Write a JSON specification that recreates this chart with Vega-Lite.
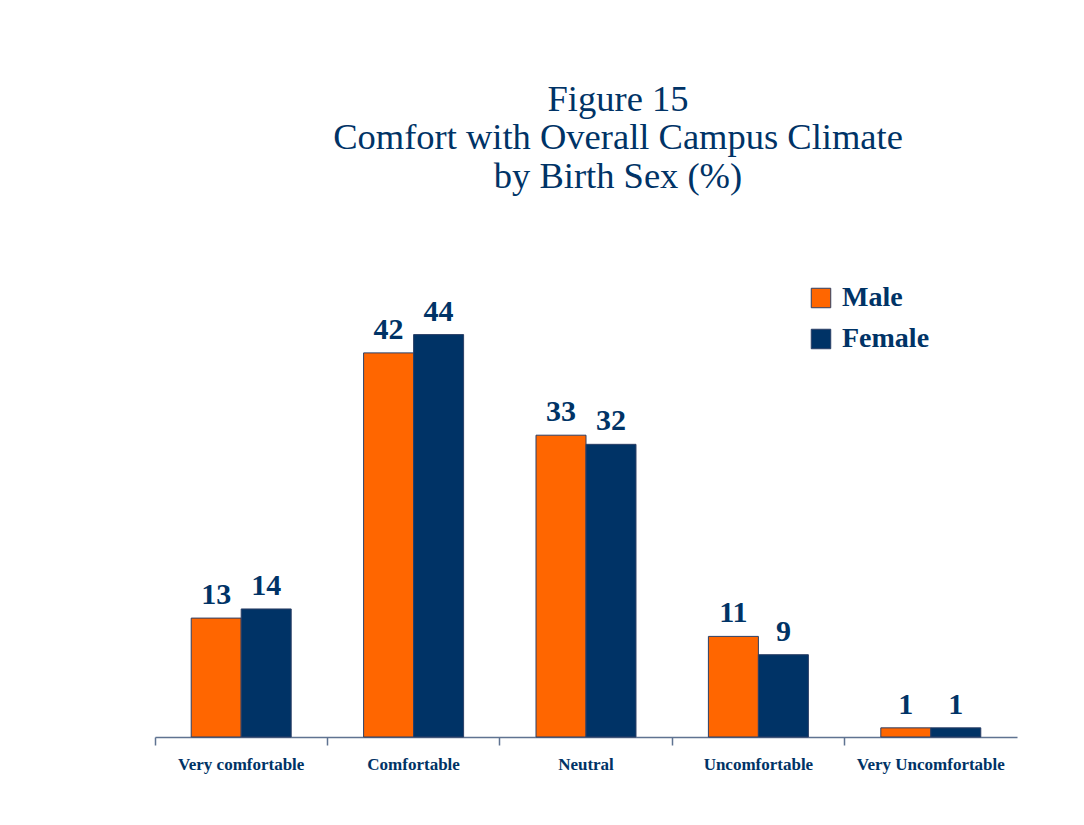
{
  "$schema": "https://vega.github.io/schema/vega-lite/v6.json",
  "autosize": "none",
  "width": 862,
  "height": 439,
  "padding": {"left": 155, "top": 298, "right": 67, "bottom": 88},
  "background": "white",
  "view": {"stroke": null},
  "title": {
    "text": ["Figure 15", "Comfort with Overall Campus Climate", "by Birth Sex (%)"],
    "font": "Liberation Serif",
    "fontSize": 36.5,
    "fontWeight": "normal",
    "color": "#003366",
    "lineHeight": 38.5,
    "anchor": "middle",
    "dx": 32,
    "offset": 89
  },
  "data": {
    "values": [
      {"category": "Very comfortable", "sex": "Male", "pct": 13},
      {"category": "Very comfortable", "sex": "Female", "pct": 14},
      {"category": "Comfortable", "sex": "Male", "pct": 42},
      {"category": "Comfortable", "sex": "Female", "pct": 44},
      {"category": "Neutral", "sex": "Male", "pct": 33},
      {"category": "Neutral", "sex": "Female", "pct": 32},
      {"category": "Uncomfortable", "sex": "Male", "pct": 11},
      {"category": "Uncomfortable", "sex": "Female", "pct": 9},
      {"category": "Very Uncomfortable", "sex": "Male", "pct": 1},
      {"category": "Very Uncomfortable", "sex": "Female", "pct": 1}
    ]
  },
  "encoding": {
    "x": {
      "field": "category",
      "type": "nominal",
      "sort": null,
      "scale": {"paddingInner": 0.42, "paddingOuter": 0.21},
      "axis": {
        "title": null,
        "labelAngle": 0,
        "labelFont": "Liberation Serif",
        "labelFontSize": 17,
        "labelFontWeight": "bold",
        "labelColor": "#003366",
        "labelPadding": 11,
        "domainColor": "#5f7391",
        "domainWidth": 1.5,
        "tickColor": "#5f7391",
        "tickWidth": 1.5,
        "tickSize": 8,
        "bandPosition": -0.362
      }
    },
    "xOffset": {"field": "sex", "type": "nominal", "sort": ["Male", "Female"]},
    "y": {
      "field": "pct",
      "type": "quantitative",
      "scale": {"domain": [0, 48]},
      "axis": null
    }
  },
  "layer": [
    {
      "mark": {"type": "bar", "stroke": "#2b3f66", "strokeWidth": 1},
      "encoding": {
        "color": {
          "field": "sex",
          "type": "nominal",
          "sort": ["Male", "Female"],
          "scale": {"domain": ["Male", "Female"], "range": ["#ff6600", "#003366"]},
          "legend": {
            "title": null,
            "orient": "none",
            "legendX": 652,
            "legendY": -14,
            "symbolType": "square",
            "symbolSize": 380,
            "symbolStrokeColor": "#2b3f66",
            "symbolStrokeWidth": 1,
            "labelFont": "Liberation Serif",
            "labelFontSize": 28,
            "labelFontWeight": "bold",
            "labelColor": "#003366",
            "rowPadding": 13,
            "labelOffset": 7
          }
        }
      }
    },
    {
      "mark": {
        "type": "text",
        "font": "Liberation Serif",
        "fontSize": 30,
        "fontWeight": "bold",
        "color": "#003366",
        "baseline": "bottom",
        "dy": -8
      },
      "encoding": {"text": {"field": "pct", "type": "quantitative"}}
    }
  ]
}
